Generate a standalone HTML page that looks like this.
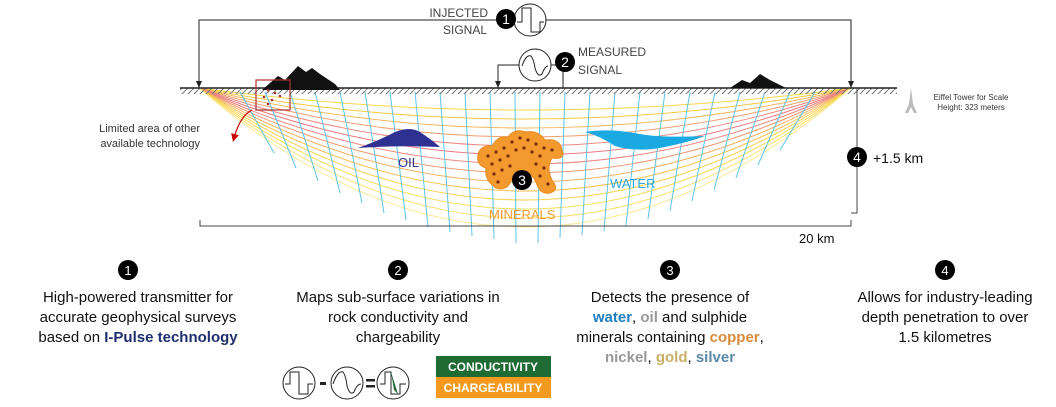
<!DOCTYPE html>
<html><head><meta charset="utf-8"><style>
body{margin:0;background:#fff;width:1056px;height:407px;overflow:hidden;font-family:"Liberation Sans",Arial,sans-serif}
svg{position:absolute;left:0;top:0}
</style></head><body>
<svg width="1056" height="407" viewBox="0 0 1056 407" font-family="Liberation Sans, Arial, sans-serif">
<defs>
<pattern id="hatch" width="6" height="6" patternUnits="userSpaceOnUse"><path d="M0,6 L6,0" stroke="#777" stroke-width="1"/></pattern>
<marker id="ar" markerWidth="8" markerHeight="8" refX="7" refY="4" orient="auto" markerUnits="userSpaceOnUse"><path d="M0,1 L7,4 L0,7 Z" fill="#222"/></marker>
<marker id="rar" markerWidth="8" markerHeight="8" refX="4" refY="4" orient="auto" markerUnits="userSpaceOnUse"><path d="M0,0 L8,4 L0,8 Z" fill="#c00"/></marker>
</defs>
<g fill="none" stroke-width="1">
<path d="M199,88 Q525,132 851,88" stroke="#f7d84a"/>
<path d="M199,88 Q525,150 851,88" stroke="#f5c842"/>
<path d="M199,88 Q525,168 851,88" stroke="#f4b860"/>
<path d="M199,88 Q525,186 851,88" stroke="#f0a070"/>
<path d="M199,88 Q525,204 851,88" stroke="#ee8a80"/>
<path d="M199,88 Q525,222 851,88" stroke="#ec7a80"/>
<path d="M199,88 Q525,240 851,88" stroke="#ee8880"/>
<path d="M199,88 Q525,258 851,88" stroke="#f09a70"/>
<path d="M199,88 Q525,276 851,88" stroke="#f3b060"/>
<path d="M199,88 Q525,294 851,88" stroke="#f5c050"/>
<path d="M199,88 Q525,312 851,88" stroke="#f6d050"/>
<path d="M199,88 Q525,330 851,88" stroke="#f7dc5a"/>
<path d="M199,88 Q525,348 851,88" stroke="#f8e070"/>
<path d="M199,88 Q525,366 851,88" stroke="#f9e890"/>
</g>
<g stroke="#5fc3e8" stroke-width="1">
<line x1="240" y1="92" x2="274" y2="153"/><line x1="265" y1="92" x2="296" y2="168"/>
<line x1="290" y1="92" x2="318" y2="181"/><line x1="315" y1="92" x2="340" y2="193"/>
<line x1="340" y1="92" x2="362" y2="203"/><line x1="365" y1="92" x2="384" y2="213"/>
<line x1="390" y1="92" x2="406" y2="220"/><line x1="415" y1="92" x2="428" y2="227"/>
<line x1="440" y1="92" x2="450" y2="232"/><line x1="465" y1="92" x2="472" y2="236"/>
<line x1="490" y1="92" x2="494" y2="239"/><line x1="515" y1="92" x2="516" y2="243"/>
<line x1="540" y1="92" x2="538" y2="243"/><line x1="565" y1="92" x2="560" y2="238"/>
<line x1="590" y1="92" x2="582" y2="235"/><line x1="615" y1="92" x2="604" y2="231"/>
<line x1="640" y1="92" x2="626" y2="226"/><line x1="665" y1="92" x2="648" y2="219"/>
<line x1="690" y1="92" x2="670" y2="211"/><line x1="715" y1="92" x2="692" y2="201"/>
<line x1="740" y1="92" x2="714" y2="190"/><line x1="765" y1="92" x2="736" y2="178"/>
<line x1="790" y1="92" x2="758" y2="165"/><line x1="815" y1="92" x2="780" y2="150"/>
</g>
<rect x="180" y="88" width="717" height="6" fill="url(#hatch)"/>
<line x1="180" y1="88" x2="897" y2="88" stroke="#222" stroke-width="1.5"/>
<path d="M262,90 L278,76 L285,80 L298,66 L306,72 L312,68 L320,74 L335,84 L340,90 Z" fill="#111"/>
<path d="M730,88 L742,80 L750,83 L760,74 L770,80 L782,86 L786,88 Z" fill="#111"/>
<rect x="256" y="80" width="34" height="30" fill="none" stroke="#a33" stroke-width="1.2"/>
<g fill="#a33"><circle cx="268" cy="90" r="1.3"/><circle cx="275" cy="93" r="1.3"/><circle cx="264" cy="97" r="1.3"/><circle cx="272" cy="100" r="1.3"/><circle cx="280" cy="96" r="1.3"/><circle cx="268" cy="104" r="1.3"/></g>
<path d="M252,110 Q240,116 234,138" fill="none" stroke="#c00" stroke-width="1.2" marker-end="url(#rar)"/>
<text x="200" y="132" font-size="11" text-anchor="end" fill="#333">Limited area of other</text>
<text x="200" y="147" font-size="11" text-anchor="end" fill="#333">available technology</text>
<polyline points="199,80 199,20 851,20 851,80" fill="none" stroke="#222" stroke-width="1"/>
<line x1="199" y1="78" x2="199" y2="88" stroke="#222" marker-end="url(#ar)"/>
<line x1="851" y1="78" x2="851" y2="88" stroke="#222" marker-end="url(#ar)"/>
<circle cx="530" cy="20" r="16" fill="#fff" stroke="#222"/>
<path d="M517,22 L522,22 L522,8 L531,8 L531,32 L540,32 L540,22 L544,22" fill="none" stroke="#222"/>
<circle cx="506" cy="19" r="10" fill="#000"/><text x="506" y="24" font-size="14" fill="#fff" text-anchor="middle">1</text>
<text x="488" y="17" font-size="12" fill="#444" text-anchor="end">INJECTED</text>
<text x="487" y="34" font-size="12" fill="#444" text-anchor="end">SIGNAL</text>
<polyline points="519,65 498,65 498,80" fill="none" stroke="#222"/>
<line x1="498" y1="78" x2="498" y2="88" stroke="#222" marker-end="url(#ar)"/>
<polyline points="551,65 563,65 563,88" fill="none" stroke="#222"/>
<circle cx="535" cy="65" r="16" fill="#fff" stroke="#222"/>
<path d="M522,66 Q526,54 531,56 Q534,60 535,68 Q538,78 542,74 Q545,66 548,66" fill="none" stroke="#222"/>
<circle cx="565" cy="62" r="10" fill="#000"/><text x="565" y="67" font-size="14" fill="#fff" text-anchor="middle">2</text>
<text x="578" y="56" font-size="12" fill="#444">MEASURED</text>
<text x="578" y="74" font-size="12" fill="#444">SIGNAL</text>
<path d="M358,148 Q380,140 395,132 Q410,126 420,132 Q432,140 440,147 Q400,145 358,148 Z" fill="#2e3192"/>
<text x="398" y="167" font-size="13" fill="#2e3192">OIL</text>
<path d="M585,132 Q600,136 615,146 Q635,152 660,148 Q690,142 705,136 Q660,138 640,134 Q610,128 585,132 Z" fill="#1ba9e1"/>
<text x="610" y="188" font-size="13" fill="#2aa8de">WATER</text>
<path d="M478,155 Q480,145 492,146 Q498,135 508,137 Q514,128 526,132 Q538,130 545,140 Q560,138 562,150 Q566,160 552,158 Q546,168 552,180 Q560,190 550,193 Q540,195 536,182 Q530,170 522,172 Q514,168 512,178 Q508,192 496,188 Q484,180 486,168 Q476,165 478,155 Z" fill="#f39a2e" stroke="#e88a20"/>
<g fill="#7a2a10">
<circle cx="488" cy="156" r="1.6"/><circle cx="496" cy="152" r="1.6"/><circle cx="504" cy="148" r="1.6"/><circle cx="512" cy="142" r="1.6"/><circle cx="520" cy="138" r="1.6"/><circle cx="528" cy="140" r="1.6"/><circle cx="536" cy="144" r="1.6"/><circle cx="544" cy="148" r="1.6"/><circle cx="552" cy="150" r="1.6"/>
<circle cx="492" cy="164" r="1.6"/><circle cx="500" cy="160" r="1.6"/><circle cx="508" cy="156" r="1.6"/><circle cx="516" cy="150" r="1.6"/><circle cx="524" cy="148" r="1.6"/><circle cx="532" cy="152" r="1.6"/><circle cx="540" cy="156" r="1.6"/>
<circle cx="494" cy="174" r="1.6"/><circle cx="502" cy="170" r="1.6"/><circle cx="510" cy="166" r="1.6"/><circle cx="536" cy="164" r="1.6"/><circle cx="544" cy="168" r="1.6"/>
<circle cx="498" cy="182" r="1.6"/><circle cx="540" cy="176" r="1.6"/><circle cx="548" cy="184" r="1.6"/>
</g>
<circle cx="522" cy="180" r="10" fill="#000"/><text x="522" y="185" font-size="14" fill="#fff" text-anchor="middle">3</text>
<text x="489" y="219" font-size="13" fill="#f39a2e">MINERALS</text>
<polyline points="851,213 857,213 857,88" fill="none" stroke="#444"/>
<circle cx="857" cy="157" r="10" fill="#000"/><text x="857" y="162" font-size="14" fill="#fff" text-anchor="middle">4</text>
<text x="873" y="163" font-size="14" fill="#111">+1.5 km</text>
<polyline points="200,220 200,226 851,226 851,220" fill="none" stroke="#444"/>
<text x="799" y="243" font-size="13" fill="#111">20 km</text>
<path d="M911,88 L909,104 L905,113 L908,113 L911,107 L914,113 L917,113 L913,104 Z" fill="#bbb"/>
<text x="971" y="100" font-size="8" fill="#333" text-anchor="middle">Eiffel Tower for Scale</text>
<text x="971" y="110" font-size="8" fill="#333" text-anchor="middle">Height: 323 meters</text>
<g font-size="15" fill="#111" text-anchor="middle">
<circle cx="128" cy="270" r="10" fill="#000"/><text x="128" y="275" font-size="13" fill="#fff">1</text>
<circle cx="398" cy="270" r="10" fill="#000"/><text x="398" y="275" font-size="13" fill="#fff">2</text>
<circle cx="670" cy="270" r="10" fill="#000"/><text x="670" y="275" font-size="13" fill="#fff">3</text>
<circle cx="945" cy="270" r="10" fill="#000"/><text x="945" y="275" font-size="13" fill="#fff">4</text>
<text x="138" y="302">High-powered transmitter for</text>
<text x="138" y="322">accurate geophysical surveys</text>
<text x="138" y="342">based on <tspan fill="#1f2f6e" font-weight="bold">I-Pulse technology</tspan></text>
<text x="398" y="302">Maps sub-surface variations in</text>
<text x="398" y="322">rock conductivity and</text>
<text x="398" y="342">chargeability</text>
<text x="670" y="302">Detects the presence of</text>
<text x="670" y="322"><tspan fill="#1f7fc2" font-weight="bold">water</tspan>, <tspan fill="#999" font-weight="bold">oil</tspan> and sulphide</text>
<text x="670" y="342">minerals containing <tspan fill="#d98a3a" font-weight="bold">copper</tspan>,</text>
<text x="670" y="362"><tspan fill="#999" font-weight="bold">nickel</tspan>, <tspan fill="#c8b068" font-weight="bold">gold</tspan>, <tspan fill="#5b8aa8" font-weight="bold">silver</tspan></text>
<text x="945" y="302">Allows for industry-leading</text>
<text x="945" y="322">depth penetration to over</text>
<text x="945" y="342">1.5 kilometres</text>
</g>
<circle cx="299" cy="383" r="16" fill="#fff" stroke="#222"/>
<path d="M285,384 L290,384 L290,372 L299,372 L299,394 L308,394 L308,384 L313,384" fill="none" stroke="#222"/>
<rect x="320" y="382" width="6" height="3" fill="#222"/>
<circle cx="347" cy="383" r="16" fill="#fff" stroke="#222"/>
<path d="M333,384 Q338,370 343,372 Q346,376 347,386 Q350,396 354,392 Q357,384 361,384" fill="none" stroke="#222"/>
<rect x="366" y="379" width="9" height="2.5" fill="#222"/><rect x="366" y="385" width="9" height="2.5" fill="#222"/>
<circle cx="393" cy="383" r="16" fill="#fff" stroke="#222"/>
<path d="M380,384 L385,384 L385,372 L391,372 L391,394 L400,394 L400,384 L406,384" fill="none" stroke="#222"/>
<path d="M391,372 L394,390 L398,394 Z" fill="#1e6b34"/>
<rect x="436" y="356" width="115" height="21" fill="#1e6b34"/>
<rect x="436" y="377" width="115" height="21" fill="#f39a1e"/>
<text x="493" y="371" font-size="12" font-weight="bold" fill="#fff" text-anchor="middle">CONDUCTIVITY</text>
<text x="493" y="392" font-size="12" font-weight="bold" fill="#fff" text-anchor="middle">CHARGEABILITY</text>
</svg>
</body></html>
